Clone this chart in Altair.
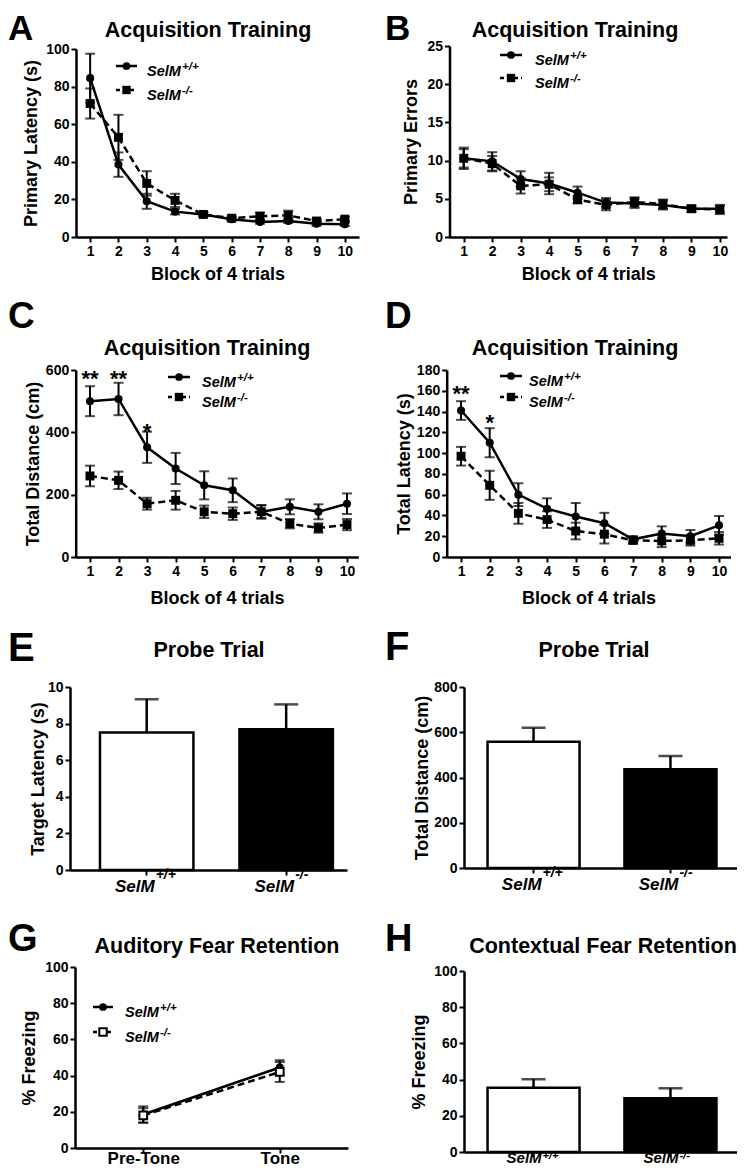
import altair as alt
import pandas as pd

FONT = "Liberation Sans"
W, H = 729, 1159

blocks = list(range(1, 11))

# A: Primary Latency (s)
a_wt = [84.5, 38.5, 19.0, 13.5, 12.0, 9.5, 8.0, 8.5, 7.0, 6.8]
a_wt_sem = [13.0, 6.5, 4.0, 1.5, 1.0, 1.0, 1.0, 1.0, 1.0, 1.0]
a_ko = [71.0, 53.0, 28.5, 19.5, 12.0, 10.0, 11.0, 11.5, 8.5, 9.5]
a_ko_sem = [8.0, 12.0, 6.5, 3.5, 1.0, 1.0, 2.0, 2.5, 1.0, 1.0]

# B: Primary Errors
b_wt = [10.3, 9.9, 7.6, 7.0, 5.8, 4.5, 4.4, 4.2, 3.7, 3.7]
b_wt_sem = [1.4, 1.2, 1.0, 1.4, 0.8, 0.6, 0.6, 0.6, 0.4, 0.4]
b_ko = [10.3, 9.6, 6.7, 6.9, 4.9, 4.2, 4.6, 4.3, 3.7, 3.6]
b_ko_sem = [1.2, 1.0, 1.0, 0.9, 0.5, 0.7, 0.6, 0.6, 0.4, 0.6]

# C: Total Distance (cm)
c_wt = [500, 507, 352, 284, 230, 214, 145, 161, 145, 171]
c_wt_sem = [48, 52, 50, 50, 45, 38, 22, 24, 24, 33]
c_ko = [260, 246, 171, 182, 145, 139, 145, 107, 93, 104]
c_ko_sem = [33, 28, 19, 30, 20, 20, 20, 15, 15, 18]
c_star_blocks = [1, 2, 3]
c_star_y = [549, 549, 379]
c_star_text = ["**", "**", "*"]

# D: Total Latency (s)
d_wt = [141, 110, 60, 46.5, 39, 32.5, 17, 22.5, 20, 30.5]
d_wt_sem = [9, 14, 11, 10, 13, 10, 3, 7, 6, 9]
d_ko = [97, 69, 42, 36, 25, 22, 16, 15.5, 16, 18]
d_ko_sem = [9, 14, 10, 8, 8, 9, 3, 6, 5, 6]
d_star_blocks = [1, 2]
d_star_y = [150, 122]
d_star_text = ["**", "*"]

# Bars (E, F, H)
genotypes = ["+/+", "-/-"]
e_vals = [7.52, 7.69]
e_sems = [1.81, 1.36]
f_vals = [558, 437]
f_sems = [62, 58]
h_vals = [35.5, 29.7]
h_sems = [4.7, 5.5]

# G: auditory fear retention
g_phases = ["Pre-Tone", "Tone"]
g_wt = [18.5, 44.5]
g_wt_sem = [4.5, 4.0]
g_ko = [18.0, 42.0]
g_ko_sem = [4.0, 5.5]

one = pd.DataFrame({"a": [0]})


def P(v):
    return v - 8


def yaxis(xpage, values, title, pad):
    return alt.Axis(orient="left", offset=-P(xpage), values=values, title=title,
                    titlePadding=pad, format="d")


def xaxis_blocks(ypage, pad):
    return alt.Axis(orient="bottom", offset=P(ypage) - H, values=blocks, format="d",
                    title="Block of 4 trials", titlePadding=pad)


def line_panel(xs, xtype, wt, wt_sem, ko, ko_sem, xscale, xaxis, yscale, yax,
               ko_open=False, stars=None):
    n = len(xs)
    df = pd.DataFrame({"x": list(xs) * 2, "m": list(wt) + list(ko),
                       "s": list(wt_sem) + list(ko_sem), "g": ["WT"] * n + ["KO"] * n})
    df["lo"] = df["m"] - df["s"]
    df["hi"] = df["m"] + df["s"]

    def X(ax=None):
        return alt.X(f"x:{xtype}", scale=xscale, axis=ax)

    def Y(f, ax=None):
        return alt.Y(f"{f}:Q", scale=yscale, axis=ax)

    base = alt.Chart(df)
    wt_b = base.transform_filter(alt.datum.g == "WT")
    ko_b = base.transform_filter(alt.datum.g == "KO")
    layers = [
        base.mark_rule(color="black", strokeWidth=2).encode(x=X(xaxis), y=Y("lo", yax), y2="hi:Q"),
        base.mark_tick(color="black", orient="horizontal", size=10, thickness=2).encode(x=X(), y=Y("lo")),
        base.mark_tick(color="black", orient="horizontal", size=10, thickness=2).encode(x=X(), y=Y("hi")),
        wt_b.mark_line(color="black", strokeWidth=2.5).encode(x=X(), y=Y("m")),
        ko_b.mark_line(color="black", strokeWidth=2.5, strokeDash=[7, 4]).encode(x=X(), y=Y("m")),
        wt_b.mark_point(shape="circle", filled=True, size=65, color="black", opacity=1).encode(x=X(), y=Y("m")),
    ]
    if ko_open:
        layers.append(ko_b.mark_point(shape="square", filled=True, fill="white", stroke="black",
                                      strokeWidth=2, size=60, opacity=1).encode(x=X(), y=Y("m")))
    else:
        layers.append(ko_b.mark_point(shape="square", filled=True, size=80, color="black",
                                      opacity=1).encode(x=X(), y=Y("m")))
    if stars is not None:
        sdf = pd.DataFrame({"x": stars[0], "sy": stars[1], "t": stars[2]})
        layers.append(alt.Chart(sdf).mark_text(font=FONT, fontWeight="bold", fontSize=22,
                                               baseline="alphabetic", color="black")
                      .encode(x=X(), y=Y("sy"), text="t:N"))
    return layers


def bar_panel(vals, sems, xscale, xaxis, yscale, yax, label_ypage, sup_rise=13,
              main_size=17, sup_size=14):
    df = pd.DataFrame({"geno": genotypes, "v": vals,
                       "hi": [v + s for v, s in zip(vals, sems)]})

    def X(ax=None):
        return alt.X("geno:N", scale=xscale, axis=ax)

    base = alt.Chart(df)
    return [
        base.mark_rule(color="black", strokeWidth=2.5).encode(
            x=X(), y=alt.Y("v:Q", scale=yscale, axis=None), y2="hi:Q"),
        base.mark_tick(color="black", orient="horizontal", size=24, thickness=2.5).encode(
            x=X(), y=alt.Y("hi:Q", scale=yscale, axis=None)),
        base.mark_bar(stroke="black", strokeWidth=2.5).encode(
            x=X(xaxis), y=alt.Y("v:Q", scale=yscale, axis=yax),
            fill=alt.Fill("geno:N", scale=alt.Scale(domain=genotypes, range=["white", "black"]),
                          legend=None)),
        base.mark_text(text="SelM", font=FONT, fontSize=main_size, fontWeight="bold", fontStyle="italic",
                       align="right", dx=8, baseline="alphabetic", color="black").encode(
            x=X(), y=alt.value(P(label_ypage))),
        base.mark_text(font=FONT, fontSize=sup_size, fontWeight="bold", fontStyle="italic",
                       align="left", dx=9, baseline="alphabetic", color="black").encode(
            x=X(), y=alt.value(P(label_ypage) - sup_rise), text="geno:N"),
    ]


def text_at(s, xpage, ypage, size, italic=False, align="left"):
    return alt.Chart(one).mark_text(
        text=s, font=FONT, fontSize=size, fontWeight="bold",
        fontStyle="italic" if italic else "normal", align=align,
        baseline="alphabetic", color="black").encode(x=alt.value(P(xpage)), y=alt.value(P(ypage)))


def legend(xl0, xl1, y1, y2, xt, ko_open=False):
    xm = (xl0 + xl1) / 2
    ls = [
        alt.Chart(one).mark_rule(color="black", strokeWidth=2.5).encode(
            x=alt.value(P(xl0)), x2=alt.value(P(xl1)), y=alt.value(P(y1))),
        alt.Chart(one).mark_point(shape="circle", filled=True, size=60, color="black", opacity=1).encode(
            x=alt.value(P(xm)), y=alt.value(P(y1))),
        alt.Chart(one).mark_rule(color="black", strokeWidth=2.5, strokeDash=[4, 3]).encode(
            x=alt.value(P(xl0)), x2=alt.value(P(xl1)), y=alt.value(P(y2))),
    ]
    if ko_open:
        ls.append(alt.Chart(one).mark_point(shape="square", filled=True, fill="white", stroke="black",
                                            strokeWidth=2, size=55, opacity=1).encode(
            x=alt.value(P(xm)), y=alt.value(P(y2))))
    else:
        ls.append(alt.Chart(one).mark_point(shape="square", filled=True, size=70, color="black",
                                            opacity=1).encode(x=alt.value(P(xm)), y=alt.value(P(y2))))
    ls += [
        text_at("SelM", xt, y1 + 10, 14.5, italic=True),
        text_at("+/+", xt + 35, y1 + 4, 11.5, italic=True),
        text_at("SelM", xt, y2 + 10, 14.5, italic=True),
        text_at("-/-", xt + 35, y2 + 4, 11.5, italic=True),
    ]
    return ls


def qscale(dom, rng):
    return alt.Scale(domain=dom, range=rng, nice=False, zero=False)


def bscale(rng, pin, pout, align):
    return alt.Scale(type="band", domain=genotypes, range=rng, paddingInner=pin,
                     paddingOuter=pout, align=align)


units = []

# A
units += line_panel(
    blocks, "Q", a_wt, a_wt_sem, a_ko, a_ko_sem,
    qscale([0.5, 10.5], [P(76), P(359)]), xaxis_blocks(237, 7),
    qscale([0, 100], [P(237), P(49)]), yaxis(76, [0, 20, 40, 60, 80, 100], "Primary Latency (s)", 5))
# B
units += line_panel(
    blocks, "Q", b_wt, b_wt_sem, b_ko, b_ko_sem,
    qscale([0.5, 10.25], [P(449.5), P(727)]), xaxis_blocks(237, 7),
    qscale([0, 25], [P(237), P(46)]), yaxis(449.5, [0, 5, 10, 15, 20, 25], "Primary Errors", 6))
# C
units += line_panel(
    blocks, "Q", c_wt, c_wt_sem, c_ko, c_ko_sem,
    qscale([0.5, 10.4], [P(75.7), P(358.4)]), xaxis_blocks(557, 11),
    qscale([0, 600], [P(557), P(370)]), yaxis(75.7, [0, 200, 400, 600], "Total Distance (cm)", 3),
    stars=(c_star_blocks, c_star_y, c_star_text))
# D
units += line_panel(
    blocks, "Q", d_wt, d_wt_sem, d_ko, d_ko_sem,
    qscale([0.5, 10.4], [P(446.7), P(730.5)]), xaxis_blocks(557, 11),
    qscale([0, 180], [P(557), P(370)]),
    yaxis(446.7, list(range(0, 181, 20)), "Total Latency (s)", 3),
    stars=(d_star_blocks, d_star_y, d_star_text))

# E
units += bar_panel(
    e_vals, e_sems, bscale([P(70), P(347)], 0.33, 0.158, 0.68),
    alt.Axis(orient="bottom", offset=P(870) - H, labels=False, title=None, bandPosition=0.5),
    qscale([0, 10], [P(870), P(687)]), yaxis(70, [0, 2, 4, 6, 8, 10], "Target Latency (s)", 0), 892)
# F
units += bar_panel(
    f_vals, f_sems, bscale([P(464), P(740)], 0.328, 0.172, 0.5),
    alt.Axis(orient="bottom", offset=P(868) - H, labels=False, title=None, bandPosition=0.5),
    qscale([0, 800], [P(868), P(687)]), yaxis(464, [0, 200, 400, 600, 800], "Total Distance (cm)", 2), 890)
# G
g_x = alt.Scale(type="point", domain=g_phases, range=[P(75), P(348)], padding=0.5)
units += line_panel(
    g_phases, "N", g_wt, g_wt_sem, g_ko, g_ko_sem,
    g_x,
    alt.Axis(orient="bottom", offset=P(1148) - H, title=None, labelFontSize=17, labelAngle=0,
             labelBaseline="alphabetic", labelPadding=10),
    qscale([0, 100], [P(1148), P(967)]), yaxis(75, [0, 20, 40, 60, 80, 100], "% Freezing", 6),
    ko_open=True)
# H
units += bar_panel(
    h_vals, h_sems, bscale([P(464), P(740)], 0.328, 0.172, 0.5),
    alt.Axis(orient="bottom", offset=P(1152) - H, labels=False, title=None, bandPosition=0.5),
    qscale([0, 100], [P(1152), P(971)]), yaxis(464, [0, 20, 40, 60, 80, 100], "% Freezing", 5), 1163,
    sup_rise=4, main_size=15, sup_size=11)

# panel letters
for letter, xp, yp, fs in [("A", 8, 40, 35), ("B", 385, 40, 35), ("C", 8, 328, 37), ("D", 385, 328, 37),
                           ("E", 8, 661, 40), ("F", 385, 660, 40), ("G", 8, 951, 38), ("H", 385, 951, 38)]:
    units.append(text_at(letter, xp, yp, fs))
# titles
for t, xp, yp in [("Acquisition Training", 208, 37), ("Acquisition Training", 575, 37),
                  ("Acquisition Training", 207, 355), ("Acquisition Training", 575, 355),
                  ("Probe Trial", 209, 657), ("Probe Trial", 594, 657),
                  ("Auditory Fear Retention", 217, 953), ("Contextual Fear Retention", 603, 953)]:
    units.append(text_at(t, xp, yp, 21.5, align="center"))
# legends
units += legend(116, 137, 66, 90, 147)
units += legend(500, 522, 55, 78, 535)
units += legend(168, 190, 377, 397, 202)
units += legend(500, 522, 376, 397, 529)
units += legend(93, 113, 1007, 1032, 125, ko_open=True)

chart = alt.layer(*units).resolve_scale(
    x="independent", y="independent"
).properties(
    width=W, height=H, autosize=alt.AutoSizeParams(type="none"), padding=0
).configure_view(stroke=None).configure_axis(
    labelFont=FONT, labelFontWeight="bold", labelFontSize=14, labelColor="black",
    titleFont=FONT, titleFontWeight="bold", titleFontSize=18, titleColor="black",
    domainColor="black", domainWidth=2.5, tickColor="black", tickWidth=2, tickSize=5,
    grid=False, labelFlush=False, labelOverlap=False, labelPadding=2
)

chart.save("out.html", embed_options={"renderer": "svg", "actions": False})
